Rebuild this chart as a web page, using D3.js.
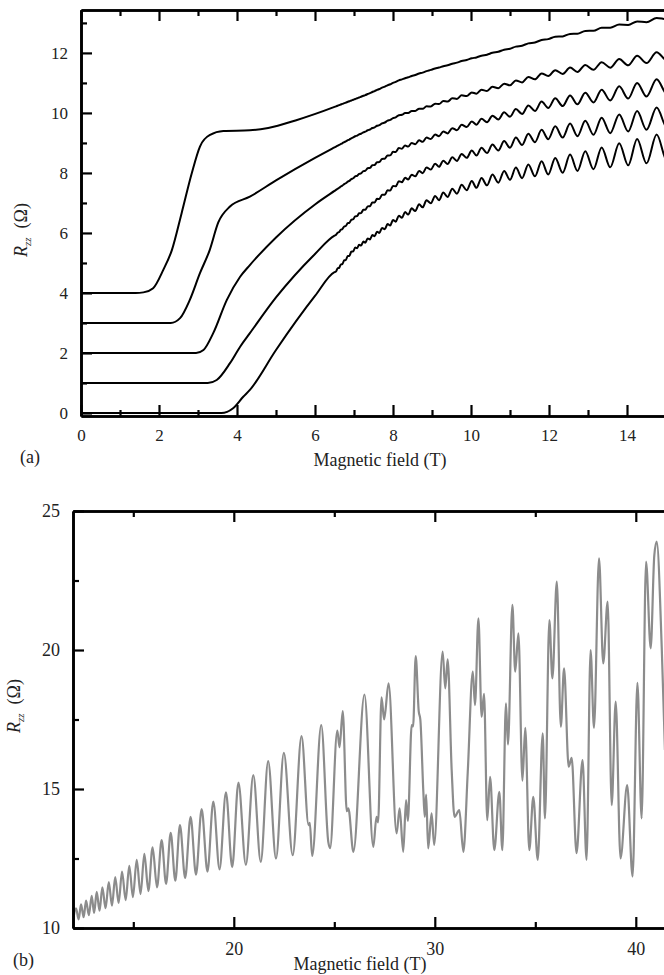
<!DOCTYPE html>
<html>
<head>
<meta charset="utf-8">
<script src="https://cdn.jsdelivr.net/npm/d3@7"></script>
<style>
  body { margin: 0; background: #fff; }
  svg { display: block; }
  text { font-family: "Liberation Serif", "Times New Roman", serif; fill: #222; }
</style>
</head>
<body>
<svg id="chart" width="664" height="975"></svg>
<script>
// ---------- panel (a) data ----------
const ticksA_x = [0, 2, 4, 6, 8, 10, 12, 14];
const ticksA_y = [0, 2, 4, 6, 8, 10, 12];

// fields of the oscillation maxima / minima (shared by all five traces)
const peaksA = [6.50, 6.58, 6.66, 6.75, 6.84, 6.93, 7.03, 7.13, 7.24, 7.35, 7.47, 7.59, 7.72, 7.86, 8.00, 8.15,
  8.31, 8.48, 8.67, 8.86, 9.08, 9.29, 9.52, 9.76, 10.02, 10.27, 10.55, 10.85, 11.15, 11.47, 11.81, 12.16,
  12.54, 12.93, 13.35, 13.80, 14.26, 14.76, 15.30];
const troughsA = [6.54, 6.62, 6.70, 6.79, 6.88, 6.98, 7.08, 7.18, 7.29, 7.41, 7.53, 7.65, 7.79, 7.93, 8.07, 8.23,
  8.39, 8.57, 8.76, 8.97, 9.18, 9.40, 9.64, 9.89, 10.14, 10.41, 10.70, 11.00, 11.31, 11.64, 11.98, 12.35,
  12.73, 13.14, 13.57, 14.03, 14.50, 15.03, 15.58];

// background resistance of each trace [B (T), R (ohm)]
const bgA1 = [[0, 4], [1.4, 4], [1.6, 4.02], [1.85, 4.16], [2.11, 4.77], [2.33, 5.43], [2.58, 6.66], [2.84, 7.99],
  [3.05, 8.88], [3.31, 9.27], [3.65, 9.4], [4.33, 9.42], [4.8, 9.5], [5.5, 9.75], [6.5, 10.2], [7.3, 10.6],
  [8.18, 11.1], [9.0, 11.45], [9.89, 11.77], [11, 12.15], [12.03, 12.49], [13.5, 12.85], [14.95, 13.16], [16, 13.35]];
const bgA2 = [[0, 3], [2.3, 3.0], [2.54, 3.16], [2.79, 3.77], [3.05, 4.66], [3.3, 5.43], [3.52, 6.35], [3.82, 6.88],
  [4.33, 7.21], [5, 7.75], [6, 8.5], [7, 9.2], [8.18, 9.93], [9.89, 10.6], [12.03, 11.32], [14.95, 11.9], [16, 12.05]];
const bgA3 = [[0, 2], [2.95, 2.0], [3.14, 2.1], [3.39, 2.66], [3.74, 3.77], [4.08, 4.54], [4.33, 4.93], [5, 5.85],
  [6, 6.95], [7, 7.85], [8.18, 8.82], [9.89, 9.6], [12.03, 10.32], [14.95, 10.89], [16, 11.05]];
const bgA4 = [[0, 1], [3.25, 1.0], [3.48, 1.1], [3.82, 1.66], [4.08, 2.21], [4.33, 2.66], [5, 3.85], [6, 5.3],
  [7, 6.5], [8.18, 7.71], [9.0, 8.2], [9.89, 8.6], [12.03, 9.33], [14.95, 9.86], [16, 10.0]];
const bgA5 = [[0, 0], [3.6, 0], [3.9, 0.16], [4.16, 0.54], [4.33, 0.77], [5, 2.1], [6, 3.9], [7, 5.45],
  [8.18, 6.54], [9.0, 7.1], [9.89, 7.55], [11, 7.95], [12.03, 8.21], [14.95, 8.86], [16, 9.0]];

// half peak-to-peak amplitude of the oscillations [B, dR]
const ampA1 = [[6.5, 0], [10, 0.005], [12, 0.015], [14, 0.03], [15, 0.05], [16, 0.06]];
const ampA2 = [[6.5, 0], [8, 0.01], [9, 0.025], [10, 0.04], [11, 0.055], [12, 0.075], [13, 0.1], [14, 0.13], [15, 0.17], [16, 0.2]];
const ampA3 = [[6.5, 0], [8, 0.03], [9, 0.05], [10, 0.07], [11, 0.1], [12, 0.14], [13, 0.18], [14, 0.23], [15, 0.28], [16, 0.33]];
const ampA4 = [[6.5, 0.01], [8, 0.04], [9, 0.07], [10, 0.1], [11, 0.14], [12, 0.19], [13, 0.25], [14, 0.31], [15, 0.37], [16, 0.42]];
const ampA5 = [[6.5, 0.02], [8, 0.06], [9, 0.09], [10, 0.13], [11, 0.18], [12, 0.25], [13, 0.32], [14, 0.4], [15, 0.48], [16, 0.55]];

// ---------- panel (b) data ----------
const ticksB_x = [20, 30, 40];
const ticksB_y = [10, 15, 20, 25];
const traceB = [
  [12.0, 10.23], [12.15, 10.71], [12.28, 10.31], [12.40, 10.85], [12.53, 10.39], [12.65, 10.99], [12.79, 10.46],
  [12.93, 11.16], [13.05, 10.54], [13.18, 11.30], [13.32, 10.62], [13.46, 11.46], [13.62, 10.71], [13.78, 11.65],
  [13.94, 10.80], [14.10, 11.83], [14.27, 10.90], [14.44, 12.03], [14.62, 11.00], [14.80, 12.24], [14.98, 11.11],
  [15.17, 12.45], [15.36, 11.22], [15.55, 12.67], [15.75, 11.33], [15.96, 12.90], [16.18, 11.46], [16.41, 13.16],
  [16.63, 11.59], [16.86, 13.42], [17.09, 11.70], [17.32, 13.70], [17.58, 11.80], [17.85, 14.00], [18.12, 11.92],
  [18.40, 14.28], [18.69, 12.03], [18.98, 14.55], [19.29, 12.11], [19.61, 14.88], [19.92, 12.19], [20.23, 15.23],
  [20.60, 12.27], [20.97, 15.50], [21.34, 12.38], [21.71, 16.00], [22.10, 12.50], [22.49, 16.30], [22.93, 12.62],
  [23.37, 16.90], [23.72, 13.70], [23.78, 13.78], [23.90, 12.59], [24.35, 17.30], [24.70, 13.10], [24.79, 12.87],
  [25.15, 17.10], [25.26, 16.50], [25.42, 17.80], [25.62, 14.20], [25.70, 14.30], [25.95, 12.74], [26.50, 18.40],
  [26.94, 12.92], [27.10, 14.00], [27.18, 13.80], [27.35, 18.30], [27.48, 17.50], [27.70, 18.80], [28.10, 13.40],
  [28.25, 14.30], [28.43, 12.74], [28.57, 14.60], [28.66, 13.85],
  [28.85, 17.30], [28.92, 17.25], [29.05, 19.78], [29.20, 17.80], [29.28, 17.50], [29.43, 14.90], [29.50, 14.00],
  [29.57, 14.80], [29.67, 12.86], [29.84, 14.12], [29.97, 12.99], [30.39, 19.94], [30.52, 18.62], [30.64, 19.66],
  [30.84, 15.68], [30.98, 14.00], [31.22, 14.24], [31.42, 12.74], [31.64, 15.62], [31.89, 19.22], [32.00, 18.02],
  [32.17, 21.14], [32.33, 17.60], [32.45, 18.42], [32.61, 13.88], [32.75, 15.44], [32.96, 12.80], [33.21, 14.90],
  [33.36, 12.80], [33.54, 18.08], [33.64, 16.60], [33.86, 21.62], [34.00, 19.22], [34.16, 20.60], [34.36, 15.30],
  [34.50, 17.20], [34.70, 12.80], [34.90, 14.72], [35.12, 12.45], [35.37, 17.00], [35.48, 13.94], [35.70, 21.08],
  [35.85, 18.98], [36.07, 22.46], [36.27, 17.24], [36.43, 19.34], [36.66, 15.80], [36.81, 16.12], [37.05, 12.69],
  [37.35, 16.04], [37.55, 12.45], [37.75, 20.00], [37.92, 17.20], [38.17, 23.30], [38.38, 19.52], [38.60, 21.74],
  [38.80, 14.42], [39.00, 18.14], [39.24, 12.50], [39.57, 15.14], [39.84, 11.85], [40.08, 18.82], [40.29, 13.94],
  [40.51, 23.18], [40.74, 20.06], [40.92, 23.40], [41.04, 23.90], [41.29, 20.10], [41.45, 16.40]
];

// ---------- drawing ----------
const svg = d3.select("#chart");

function drawAxes(g, x, y, xt, xMinor, yt, yMinor, fs, labPadX, labPadY) {
  const big = 11, small = 6;
  const [x0, x1] = x.range(), [y0, y1] = y.range();
  // minor ticks
  g.append("g").attr("transform", `translate(0,${y0})`)
    .call(d3.axisBottom(x).tickValues(xMinor).tickSize(-small).tickFormat("").tickSizeOuter(0));
  g.append("g").attr("transform", `translate(0,${y1})`)
    .call(d3.axisTop(x).tickValues(xMinor).tickSize(-small).tickFormat("").tickSizeOuter(0));
  g.append("g").attr("transform", `translate(${x0},0)`)
    .call(d3.axisLeft(y).tickValues(yMinor).tickSize(-small).tickFormat("").tickSizeOuter(0));
  // major ticks
  g.append("g").attr("class", "xlab").attr("transform", `translate(0,${y0})`)
    .call(d3.axisBottom(x).tickValues(xt).tickSize(-big).tickPadding(labPadX).tickSizeOuter(0));
  g.append("g").attr("transform", `translate(0,${y1})`)
    .call(d3.axisTop(x).tickValues(xt).tickSize(-big).tickFormat("").tickSizeOuter(0));
  g.append("g").attr("class", "ylab").attr("transform", `translate(${x0},0)`)
    .call(d3.axisLeft(y).tickValues(yt).tickSize(-big).tickPadding(labPadY).tickSizeOuter(0));
  g.selectAll(".domain").attr("stroke", "#000").attr("stroke-width", 2.6);
  g.selectAll(".tick line").attr("stroke", "#000").attr("stroke-width", 2.2);
  g.selectAll(".tick text").attr("font-size", fs).attr("fill", "#222")
    .style("font-family", '"Liberation Serif", "Times New Roman", serif');
}

function yLabel(g, cx, cy) {
  const t = g.append("text").attr("transform", `translate(${cx},${cy}) rotate(-90)`)
    .attr("text-anchor", "middle").attr("font-size", 18);
  t.append("tspan").attr("font-style", "italic").text("R");
  t.append("tspan").attr("font-style", "italic").attr("font-size", 11).attr("dy", 4).text("zz");
  t.append("tspan").attr("dy", -4).text("\u2002(\u03A9)");
}

// ---- panel (a) ----
const xA = d3.scaleLinear().domain([0, 16]).range([81, 705]);
const yA = d3.scaleLinear().domain([-0.1, 13.43]).range([416, 10]);
const gA = svg.append("g");

svg.append("clipPath").attr("id", "clipA").append("rect")
  .attr("x", 81).attr("y", 10).attr("width", 624).attr("height", 406);

const lineA = d3.line().x(d => xA(d[0])).y(d => yA(d[1])).curve(d3.curveMonotoneX);
const tracesA = [[bgA1, ampA1], [bgA2, ampA2], [bgA3, ampA3], [bgA4, ampA4], [bgA5, ampA5]];
tracesA.forEach(([bg, amp]) => {
  const base = d3.scaleLinear().domain(bg.map(d => d[0])).range(bg.map(d => d[1]));
  const dA = d3.scaleLinear().domain(amp.map(d => d[0])).range(amp.map(d => d[1])).clamp(true);
  const start = amp[0][0];
  const pts = bg.filter(d => d[0] < start)
    .concat(peaksA.map(b => [b, base(b) + dA(b)]))
    .concat(troughsA.map(b => [b, base(b) - dA(b)]))
    .sort((a, b) => a[0] - b[0]);
  gA.append("path").attr("clip-path", "url(#clipA)")
    .attr("d", lineA(pts)).attr("fill", "none").attr("stroke", "#000").attr("stroke-width", 2);
});

drawAxes(gA, xA, yA, ticksA_x, d3.range(1, 17, 2), ticksA_y, d3.range(1, 14, 2), 17, 13, 13);
yLabel(gA, 27, 230);
gA.append("text").attr("x", 380).attr("y", 466).attr("text-anchor", "middle").attr("font-size", 18)
  .text("Magnetic field (T)");
gA.append("text").attr("x", 20).attr("y", 463).attr("font-size", 18).text("(a)");

// ---- panel (b) ----
const xB = d3.scaleLinear().domain([12, 44]).range([73, 716.2]);
const yB = d3.scaleLinear().domain([10, 25]).range([928, 511]);
const gB = svg.append("g");

svg.append("clipPath").attr("id", "clipB").append("rect")
  .attr("x", 73).attr("y", 511).attr("width", 644).attr("height", 417);

const lineB = d3.line().x(d => xB(d[0])).y(d => yB(d[1])).curve(d3.curveMonotoneX);
gB.append("path").attr("clip-path", "url(#clipB)")
  .attr("d", lineB(traceB)).attr("fill", "none").attr("stroke", "#8c8c8c").attr("stroke-width", 2.2);

drawAxes(gB, xB, yB, ticksB_x, [15, 25, 35, 45], ticksB_y, [12.5, 17.5, 22.5], 18, 14, 13);
yLabel(gB, 20, 706);
gB.append("text").attr("x", 360).attr("y", 970).attr("text-anchor", "middle").attr("font-size", 18)
  .text("Magnetic field (T)");
gB.append("text").attr("x", 13).attr("y", 966).attr("font-size", 18).text("(b)");
</script>
</body>
</html>
